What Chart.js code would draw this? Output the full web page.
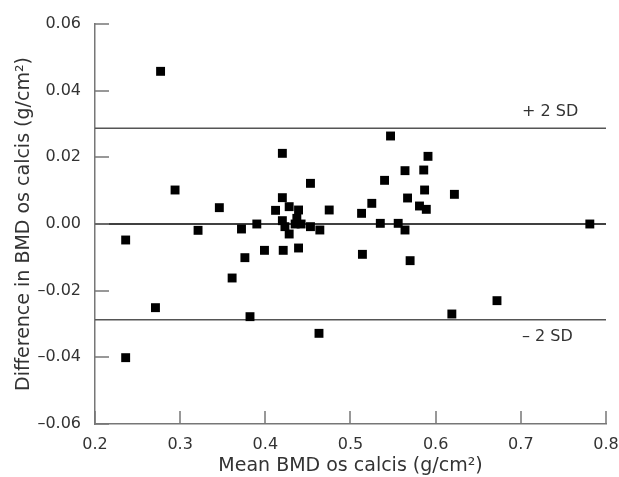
<!DOCTYPE html>
<html>
<head>
<meta charset="utf-8">
<script src="https://cdn.jsdelivr.net/npm/chart.js@4"></script>
<style>
  html, body { margin: 0; padding: 0; background: #fff; }
  #wrap { width: 619px; height: 477px; }
</style>
</head>
<body>
<div id="wrap"><canvas id="c" width="619" height="477"></canvas></div>
<script>
// ---- data ----
const meanBMD = [0.236, 0.236, 0.271, 0.277, 0.294, 0.321, 0.346, 0.361, 0.372, 0.376,
  0.382, 0.390, 0.399, 0.412, 0.420, 0.420, 0.420, 0.421, 0.423, 0.428,
  0.428, 0.435, 0.437, 0.439, 0.439, 0.442, 0.453, 0.453, 0.463, 0.464,
  0.475, 0.513, 0.514, 0.525, 0.535, 0.540, 0.547, 0.556, 0.564, 0.564,
  0.567, 0.570, 0.581, 0.586, 0.587, 0.589, 0.591, 0.619, 0.622, 0.672, 0.781];
const diffBMD = [-0.0048, -0.0401, -0.0251, 0.0458, 0.0102, -0.0019, 0.0049, -0.0162, -0.0015, -0.0101,
  -0.0278, 0.0000, -0.0079, 0.0041, 0.0212, 0.0079, 0.0010, -0.0079, -0.0008, 0.0052,
  -0.0030, 0.0000, 0.0017, 0.0042, -0.0072, 0.0000, 0.0122, -0.0008, -0.0328, -0.0018,
  0.0042, 0.0032, -0.0091, 0.0062, 0.0002, 0.0131, 0.0264, 0.0002, -0.0018, 0.0160,
  0.0078, -0.0110, 0.0054, 0.0162, 0.0102, 0.0044, 0.0203, -0.0270, 0.0089, -0.0230, 0.0000];
const meanDiff = 0.0;
const upperSD = 0.0287;
const lowerSD = -0.0287;
const lineSpan = [0.2, 0.8];
const xTickLabels = ['0.2', '0.3', '0.4', '0.5', '0.6', '0.7', '0.8'];
const yTickLabels = ['–0.06', '–0.04', '–0.02', '0.00', '0.02', '0.04', '0.06'];
const sdLabels = ['+ 2 SD', '– 2 SD'];
const xTitle = 'Mean BMD os calcis (g/cm²)';
const yTitle = 'Difference in BMD os calcis (g/cm²)';

const points = meanBMD.map((x, i) => ({ x: x, y: diffBMD[i] }));
const hLine = v => lineSpan.map(x => ({ x: x, y: v }));

const FONT = 'DejaVu Sans';
const TXT = '#333';
const AXIS = '#777';

const inwardTicks = {
  id: 'inwardTicks',
  afterDraw(chart) {
    const ctx = chart.ctx;
    const xs = chart.scales.x, ys = chart.scales.y;
    const area = chart.chartArea;
    ctx.save();
    ctx.strokeStyle = AXIS;
    ctx.lineWidth = 1.5;
    ctx.beginPath();
    ys.ticks.forEach(t => {
      const py = Math.round(ys.getPixelForValue(t.value));
      ctx.moveTo(area.left, py);
      ctx.lineTo(area.left + 14, py);
    });
    xs.ticks.forEach(t => {
      const px = Math.round(xs.getPixelForValue(t.value));
      ctx.moveTo(px, area.bottom);
      ctx.lineTo(px, area.bottom - 13);
    });
    ctx.stroke();
    // SD labels
    ctx.fillStyle = TXT;
    ctx.font = '16px "' + FONT + '"';
    ctx.textAlign = 'left';
    ctx.textBaseline = 'middle';
    ctx.fillText(sdLabels[0], 522, ys.getPixelForValue(upperSD) - 16);
    ctx.fillText(sdLabels[1], 522, ys.getPixelForValue(lowerSD) + 17);
    ctx.restore();
  }
};

new Chart(document.getElementById('c'), {
  type: 'scatter',
  data: {
    datasets: [
      { type: 'line', data: hLine(upperSD), borderColor: '#555', borderWidth: 1.5, pointRadius: 0, fill: false, order: 2 },
      { type: 'line', data: hLine(meanDiff), borderColor: '#000', borderWidth: 1.5, pointRadius: 0, fill: false, order: 2 },
      { type: 'line', data: hLine(lowerSD), borderColor: '#555', borderWidth: 1.5, pointRadius: 0, fill: false, order: 2 },
      { data: points, pointStyle: 'rect', pointRadius: 6.3, pointBackgroundColor: '#000', pointBorderWidth: 0, backgroundColor: '#000', borderColor: '#000', order: 1 }
    ]
  },
  options: {
    responsive: false,
    animation: false,
    events: [],
    layout: { padding: { top: 24, right: 13, left: 0, bottom: 0 } },
    plugins: { legend: { display: false }, tooltip: { enabled: false } },
    scales: {
      x: {
        type: 'linear', min: 0.2, max: 0.8,
        afterFit: s => { s.height = 53; s.paddingLeft = 0; s.paddingRight = 0; },
        grid: { display: false },
        border: { display: true, color: AXIS, width: 1.5 },
        ticks: {
          stepSize: 0.1, padding: 3, color: TXT, font: { family: FONT, size: 16 },
          maxRotation: 0, autoSkip: false,
          callback: (v, i) => xTickLabels[i]
        },
        title: { display: true, text: xTitle, color: TXT, font: { family: FONT, size: 19 }, padding: { top: 0, bottom: 0 } }
      },
      y: {
        type: 'linear', min: -0.06, max: 0.06,
        afterFit: s => { s.width = 95; s.paddingTop = 0; s.paddingBottom = 0; },
        grid: { display: false },
        border: { display: true, color: AXIS, width: 1.5 },
        ticks: {
          stepSize: 0.02, padding: 6, color: TXT, font: { family: FONT, size: 16 },
          autoSkip: false,
          callback: (v, i) => yTickLabels[i]
        },
        title: { display: true, text: yTitle, color: TXT, font: { family: FONT, size: 19 }, padding: { top: 13, bottom: 0 } }
      }
    }
  },
  plugins: [inwardTicks]
});
</script>
</body>
</html>
